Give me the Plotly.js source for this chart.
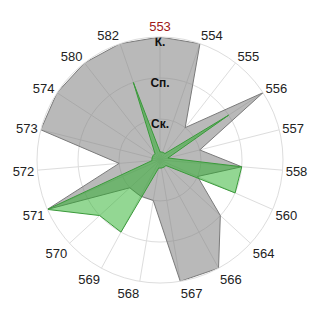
<!DOCTYPE html>
<html>
<head>
<meta charset="utf-8">
<script src="https://cdn.plot.ly/plotly-3.0.1.min.js"></script>
<style>html,body{margin:0;padding:0;background:#fff;}#chart{width:320px;height:320px;}</style>
</head>
<body>
<div id="chart"></div>
<script>
var categories = ['553','554','555','556','557','558','560','564','566','567','568','569','570','571','572','573','574','580','582'];
var highlighted = '553';
var grayValues  = [3, 3, 1, 3, 1, 2, 1, 2, 3, 3, 1, 1, 1, 3, 1, 3, 3, 3, 3];
var greenValues = [0.2, 0.2, 0.2, 2, 0.2, 2, 2, 0.2, 0.2, 0.2, 0.2, 2, 2, 3, 0.2, 0.2, 0.2, 0.2, 2];
var levelValues = [1, 2, 3];
var levelLabels = ['Ск.', 'Сп.', 'К.'];

function closed(a){ return a.concat([a[0]]); }

var tickText = categories.map(function(c){
  return c === highlighted ? '<span style="color:#a01818">' + c + '</span>' : c;
});

var traces = [
  {
    type: 'scatterpolar', mode: 'lines',
    theta: closed(categories), r: closed(grayValues),
    fill: 'toself', fillcolor: 'rgba(128,128,128,0.55)',
    line: {color: '#7a7a7a', width: 1},
    hoverinfo: 'skip'
  },
  {
    type: 'scatterpolar', mode: 'lines',
    theta: closed(categories), r: closed(greenValues),
    fill: 'toself', fillcolor: 'rgba(40,175,40,0.5)',
    line: {color: '#3a9a3a', width: 1},
    hoverinfo: 'skip'
  },
  {
    type: 'scatterpolar', mode: 'text',
    theta: levelValues.map(function(){ return highlighted; }),
    r: levelValues,
    text: levelLabels,
    textposition: 'bottom center',
    textfont: {family: 'Liberation Sans, Arial, sans-serif', size: 12, color: '#111'},
    texttemplate: '<b>%{text}</b>',
    hoverinfo: 'skip'
  }
];

var layout = {
  width: 320, height: 320,
  margin: {l: 37, r: 37, t: 37, b: 37},
  paper_bgcolor: '#fff',
  showlegend: false,
  font: {family: 'Liberation Sans, Arial, sans-serif', size: 13, color: '#222'},
  polar: {
    bgcolor: '#fff',
    domain: {x: [0, 1], y: [0, 1]},
    angularaxis: {
      type: 'category',
      categoryorder: 'array', categoryarray: categories,
      direction: 'clockwise', rotation: 90,
      tickvals: categories, ticktext: tickText,
      ticks: '', showline: true, linecolor: '#dddddd', linewidth: 1,
      gridcolor: '#dddddd', gridwidth: 1,
      tickfont: {size: 13, color: '#222'}
    },
    radialaxis: {
      range: [0, 3], tickvals: levelValues,
      showticklabels: false, ticks: '', showline: false,
      gridcolor: '#dddddd', gridwidth: 1
    }
  }
};

Plotly.newPlot('chart', traces, layout, {staticPlot: true, displayModeBar: false});
</script>
</body>
</html>
